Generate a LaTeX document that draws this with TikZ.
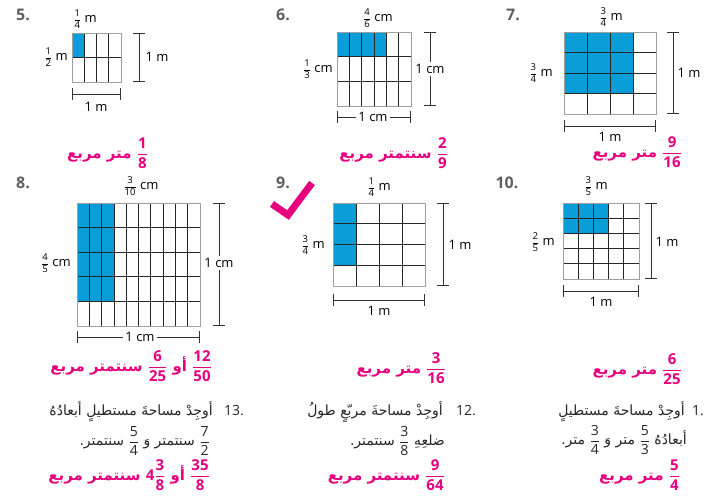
\documentclass[tikz,border=0pt]{standalone}
\usepackage{amsmath}
\usepackage{fontspec}
\setmainfont{Open Sans}
\newfontfamily\arabicfont[Script=Arabic]{DejaVu Sans}
\TeXXeTstate=1
\usetikzlibrary{arrows.meta}
\definecolor{areablue}{RGB}{10,158,216}
\definecolor{anspink}{RGB}{230,0,126}
\definecolor{numgray}{RGB}{95,95,95}
\newcommand{\sfr}[2]{\mbox{\fontsize{9.5}{11}\selectfont$\dfrac{\text{#1}}{\text{#2}}$}}
\newcommand{\bfr}[2]{\mbox{\rmfamily$\dfrac{\text{#1}}{\text{#2}}$}}
\tikzset{
  gridframe/.style={draw=gray!75, line width=0.8pt},
  gridline/.style={draw=black!85, line width=0.8pt},
  dimline/.style={draw=black!80, line width=0.8pt, {Bar[width=12pt]}-{Bar[width=12pt]}},
  dimlabel/.style={font=\fontsize{13}{15}\selectfont, inner sep=1pt},
  cutlabel/.style={dimlabel, fill=white, inner sep=2pt},
  probnum/.style={font=\fontsize{16}{18}\selectfont\bfseries, text=numgray},
  answer/.style={font=\fontsize{15}{18}\selectfont\bfseries, text=anspink, anchor=east, inner sep=0pt},
  question/.style={font=\fontsize{14}{17}\selectfont, text=black!85, anchor=east, inner sep=0pt},
}
\begin{document}
\begin{tikzpicture}[x=1pt, y=-1pt]
    \useasboundingbox (0,0) rectangle (706,495);

    % grids: corner / size / columns, rows / shaded columns, rows
    \foreach \gx/\gy/\gw/\gh/\nc/\nr/\bc/\br in {72/33/49/49/4/2/1/1, 337/32/74/74/6/3/4/1,
        564/32/92/82/4/4/3/3, 77/203/123/123/10/5/3/4, 333/203/92/83/4/4/1/3, 563/203/76/76/5/5/3/2} {
        \fill[areablue] (\gx,\gy) rectangle ++({\bc*\gw/\nc},{\br*\gh/\nr});
        \pgfmathtruncatemacro\lc{\nc-1}
        \pgfmathtruncatemacro\lr{\nr-1}
        \foreach \i in {1,...,\lc}
            \draw[gridline] ({\gx+\i*\gw/\nc},\gy) -- ++(0,\gh);
        \foreach \j in {1,...,\lr}
            \draw[gridline] (\gx,{\gy+\j*\gh/\nr}) -- ++(\gw,0);
        \draw[gridframe] (\gx,\gy) rectangle ++(\gw,\gh);
    }

    % 5.
    \node[probnum] (n5) at (23,15) {5.};
    \node[dimlabel] (top5) at (85,19) {\sfr{1}{4} m};
    \node[dimlabel] (left5) at (56,57) {\sfr{1}{2} m};
    \draw[dimline] (139,33) -- (139,82);
    \node[dimlabel] (right5) at (157,57) {1 m};
    \draw[dimline] (72,94) -- (121,94);
    \node[dimlabel] (bot5) at (96,107) {1 m};
    \node[answer] (ans5) at (148,153) {\arabicfont\beginR\bfr{1}{8} متر مربع\endR};

    % 6.
    \node[probnum] (n6) at (283,15) {6.};
    \node[dimlabel] (top6) at (378,18) {\sfr{4}{6} cm};
    \node[dimlabel] (left6) at (318,69) {\sfr{1}{3} cm};
    \draw[dimline] (430,32) -- (430,106);
    \node[cutlabel] (right6) at (430,69) {1 cm};
    \draw[dimline] (337,117) -- (411,117);
    \node[cutlabel] (bot6) at (373,117) {1 cm};
    \node[answer] (ans6) at (448,153) {\arabicfont\beginR\bfr{2}{9} سنتمتر مربع\endR};

    % 7.
    \node[probnum] (n7) at (513,15) {7.};
    \node[dimlabel] (top7) at (611,17) {\sfr{3}{4} m};
    \node[dimlabel] (left7) at (541,73) {\sfr{3}{4} m};
    \draw[dimline] (673,32) -- (673,114);
    \node[dimlabel] (right7) at (689,73) {1 m};
    \draw[dimline] (564,126) -- (656,126);
    \node[dimlabel] (bot7) at (610,137) {1 m};
    \node[answer] (ans7) at (682,152) {\arabicfont\beginR\bfr{9}{16} متر مربع\endR};

    % 8.
    \node[probnum] (n8) at (23,183) {8.};
    \node[dimlabel] (top8) at (141,186) {\sfr{3}{10} cm};
    \node[dimlabel] (left8) at (56,263) {\sfr{4}{5} cm};
    \draw[dimline] (219,203) -- (219,326);
    \node[cutlabel] (right8) at (219,263) {1 cm};
    \draw[dimline] (77,337) -- (200,337);
    \node[cutlabel] (bot8) at (140,337) {1 cm};
    \node[answer] (ans8) at (212,366) {\arabicfont\beginR\bfr{12}{50} أو \bfr{6}{25} سنتمتر مربع\endR};

    % 9.
    \node[probnum] (n9) at (283,183) {9.};
    \draw[anspink, line width=7pt] (272,204) -- (288,215) -- (312,183);
    \node[dimlabel] (top9) at (379,187) {\sfr{1}{4} m};
    \node[dimlabel] (left9) at (313,245) {\sfr{3}{4} m};
    \draw[dimline] (443,203) -- (443,286);
    \node[dimlabel] (right9) at (460,245) {1 m};
    \draw[dimline] (333,300) -- (425,300);
    \node[dimlabel] (bot9) at (379,311) {1 m};
    \node[answer] (ans9) at (446,368) {\arabicfont\beginR\bfr{3}{16} متر مربع\endR};

    % 10.
    \node[probnum] (n10) at (507,183) {10.};
    \node[dimlabel] (top10) at (596,186) {\sfr{3}{5} m};
    \node[dimlabel] (left10) at (543,242) {\sfr{2}{5} m};
    \draw[dimline] (651,203) -- (651,279);
    \node[dimlabel] (right10) at (667,242) {1 m};
    \draw[dimline] (563,291) -- (639,291);
    \node[dimlabel] (bot10) at (601,302) {1 m};
    \node[answer] (ans10) at (682,369) {\arabicfont\beginR\bfr{6}{25} متر مربع\endR};

    % word problems
    \node[question, anchor=center] (n13) at (234,411) {13.};
    \node[question] (q13a) at (213,412) {\arabicfont\beginR أوجِدْ مساحةَ مستطيلٍ أبعادُهُ\endR};
    \node[question] (q13b) at (210,441) {\arabicfont\beginR\bfr{7}{2} سنتمتر وَ \bfr{5}{4} سنتمتر.\endR};
    \node[answer] (ans13) at (210,475) {\arabicfont\beginR\bfr{35}{8} أو \mbox{\rmfamily$\text{4}\dfrac{\text{3}}{\text{8}}$} سنتمتر مربع\endR};

    \node[question, anchor=center] (n12) at (466,411) {12.};
    \node[question] (q12a) at (443,412) {\arabicfont\beginR أوجِدْ مساحةَ مربّعٍ طولُ\endR};
    \node[question] (q12b) at (445,441) {\arabicfont\beginR ضلعِهِ \bfr{3}{8} سنتمتر.\endR};
    \node[answer] (ans12) at (445,475) {\arabicfont\beginR\bfr{9}{64} سنتمتر مربع\endR};

    \node[question, anchor=center] (n1) at (698,411) {1.};
    \node[question] (q1a) at (685,412) {\arabicfont\beginR أوجِدْ مساحةَ مستطيلٍ\endR};
    \node[question] (q1b) at (687,440) {\arabicfont\beginR أبعادُهُ \bfr{5}{3} متر وَ \bfr{3}{4} متر.\endR};
    \node[answer] (ans1) at (680,475) {\arabicfont\beginR\bfr{5}{4} متر مربع\endR};
\end{tikzpicture}
\end{document}
